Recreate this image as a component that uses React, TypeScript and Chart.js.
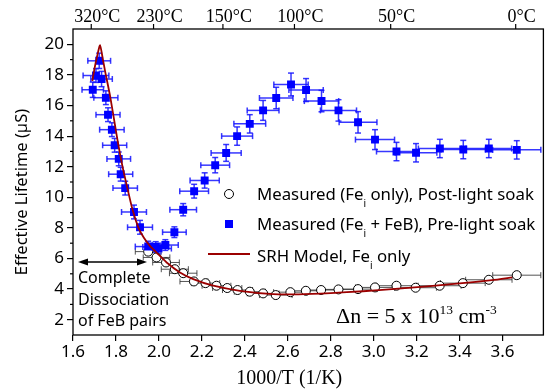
import React, { useEffect, useRef } from "react";
import { Chart, registerables } from "chart.js";

Chart.register(...registerables);

const SANS = "'Noto Sans', 'DejaVu Sans', sans-serif";
const SERIF = "'Liberation Serif', 'DejaVu Serif', serif";

// Measured (Fe_i + FeB), pre-light soak
const BLUE_X = [1.692, 1.707, 1.722, 1.733, 1.753, 1.763, 1.781, 1.794, 1.813, 1.822, 1.843, 1.884, 1.912,
  1.950, 1.985, 1.998, 2.030, 2.072,
  2.113, 2.164, 2.213, 2.262, 2.313, 2.364, 2.423,
  2.485, 2.546, 2.615, 2.685, 2.757, 2.836, 2.927, 3.006,
  3.106, 3.197, 3.308, 3.417, 3.536, 3.666];
const BLUE_Y = [17.03, 17.96, 18.92, 17.73, 16.51, 15.40, 14.42, 13.40, 12.51, 11.51, 10.60, 9.04, 8.04,
  6.78, 6.75, 6.65, 6.88, 7.72,
  9.19, 10.40, 11.10, 12.10, 12.90, 14.00, 14.80,
  15.68, 16.49, 17.37, 17.01, 16.29, 15.68, 14.90, 13.77,
  12.99, 12.91, 13.19, 13.12, 13.19, 13.10];
const BLUE_XERR = [0.05, 0.06, 0.053, 0.05, 0.056, 0.056, 0.057, 0.056, 0.055, 0.056, 0.057, 0.058, 0.058,
  0.06, 0.06, 0.06, 0.06, 0.055,
  0.062, 0.067, 0.068, 0.067, 0.07, 0.072, 0.074,
  0.074, 0.078, 0.08, 0.08, 0.08, 0.084, 0.088, 0.091,
  0.093, 0.097, 0.1, 0.103, 0.106, 0.112];
const BLUE_YERR = [0.5, 0.45, 0.5, 0.5, 0.45, 0.45, 0.45, 0.45, 0.45, 0.45, 0.45, 0.45, 0.45,
  0.35, 0.35, 0.35, 0.35, 0.35,
  0.4, 0.45, 0.5, 0.5, 0.55, 0.6, 0.6,
  0.65, 0.7, 0.75, 0.75, 0.7, 0.7, 0.7, 0.65,
  0.6, 0.6, 0.6, 0.6, 0.6, 0.6];

// Measured (Fe_i only), post-light soak
const CIRC_X = [1.950, 1.989, 2.033, 2.074, 2.113, 2.163, 2.217, 2.268, 2.318, 2.366, 2.423, 2.485, 2.544,
  2.612, 2.684, 2.755, 2.836, 2.927, 3.006, 3.106, 3.195, 3.307, 3.415, 3.536, 3.666];
const CIRC_Y = [6.45, 6.07, 5.74, 5.30, 5.04, 4.50, 4.39, 4.22, 4.07, 3.94, 3.83, 3.72, 3.61,
  3.80, 3.89, 3.94, 3.98, 4.00, 4.11, 4.22, 4.09, 4.22, 4.39, 4.61, 4.91];
const CIRC_XERR = [0.06, 0.062, 0.062, 0.063, 0.064, 0.065, 0.066, 0.067, 0.068, 0.07, 0.072, 0.074, 0.076,
  0.078, 0.08, 0.082, 0.085, 0.088, 0.091, 0.094, 0.097, 0.1, 0.104, 0.108, 0.112];

// SRH model, Fe_i only
const MODEL_X = [1.690, 1.700, 1.712, 1.726, 1.738, 1.750, 1.773, 1.804, 1.827, 1.851, 1.877, 1.905, 1.930,
  1.958, 1.989, 2.036, 2.098, 2.160, 2.253, 2.377, 2.532, 2.650, 2.800, 2.950, 3.100, 3.250, 3.400, 3.550, 3.645];
const MODEL_Y = [17.6, 18.4, 19.2, 19.95, 19.1, 18.2, 16.6, 14.0, 12.25, 10.73, 9.2, 8.0, 7.35,
  6.82, 6.39, 5.74, 5.09, 4.65, 4.22, 3.89, 3.67, 3.66, 3.74, 3.86, 4.02, 4.18, 4.38, 4.58, 4.76];

const X_TICKS = [1.6, 1.8, 2.0, 2.2, 2.4, 2.6, 2.8, 3.0, 3.2, 3.4, 3.6];
const Y_TICKS = [2, 4, 6, 8, 10, 12, 14, 16, 18, 20];
const Y_MINOR = [3, 5, 7, 9, 11, 13, 15, 17, 19];
const TOP_TICKS = [1.685, 1.975, 2.298, 2.631, 3.079, 3.661];
const TOP_LABELS = ["320°C", "230°C", "150°C", "100°C", "50°C", "0°C"];

const LEGEND_ROWS: [string, string][][] = [
  [["Measured (Fe", ""], ["i", "sub"], [" only), Post-light soak", ""]],
  [["Measured (Fe", ""], ["i", "sub"], [" + FeB), Pre-light soak", ""]],
  [["SRH Model, Fe", ""], ["i", "sub"], [" only", ""]],
];
const NOTE_LINES = ["Complete", "Dissociation", "of FeB pairs"];
const DN_PARTS: [string, string][] = [["Δn = 5 x 10", ""], ["13", "sup"], [" cm", ""], ["-3", "sup"]];

function drawRich(ctx: CanvasRenderingContext2D, parts: [string, string][], x: number, y: number,
  family: string, size: number, subSize: number, subDy: number, supDy: number) {
  let cx = x;
  for (const [t, kind] of parts) {
    if (kind === "sub") {
      ctx.font = `${subSize}px ${family}`;
      ctx.fillText(t, cx, y + subDy);
    } else if (kind === "sup") {
      ctx.font = `${subSize}px ${family}`;
      ctx.fillText(t, cx, y - supDy);
    } else {
      ctx.font = `${size}px ${family}`;
      ctx.fillText(t, cx, y);
    }
    cx += ctx.measureText(t).width;
  }
}

const errorBars = {
  id: "errorBars",
  beforeDatasetsDraw(chart: any) {
    const { ctx, scales } = chart;
    const x = scales.x, y = scales.y;
    ctx.save();
    const seg = (x1: number, y1: number, x2: number, y2: number) => {
      ctx.beginPath(); ctx.moveTo(x1, y1); ctx.lineTo(x2, y2); ctx.stroke();
    };
    ctx.strokeStyle = "rgba(40,40,40,0.8)";
    ctx.lineWidth = 1;
    CIRC_X.forEach((v, i) => {
      const py = y.getPixelForValue(CIRC_Y[i]);
      const l = x.getPixelForValue(v - CIRC_XERR[i]);
      const r = x.getPixelForValue(v + CIRC_XERR[i]);
      seg(l, py, r, py);
      seg(l, py - 3, l, py + 3);
      seg(r, py - 3, r, py + 3);
    });
    ctx.strokeStyle = "rgba(20,20,255,0.85)";
    ctx.lineWidth = 1.5;
    BLUE_X.forEach((v, i) => {
      const px = x.getPixelForValue(v);
      const py = y.getPixelForValue(BLUE_Y[i]);
      const l = x.getPixelForValue(v - BLUE_XERR[i]);
      const r = x.getPixelForValue(v + BLUE_XERR[i]);
      const t = y.getPixelForValue(BLUE_Y[i] + BLUE_YERR[i]);
      const b = y.getPixelForValue(BLUE_Y[i] - BLUE_YERR[i]);
      seg(l, py, r, py);
      seg(l, py - 3, l, py + 3);
      seg(r, py - 3, r, py + 3);
      seg(px, t, px, b);
      seg(px - 3, t, px + 3, t);
      seg(px - 3, b, px + 3, b);
    });
    ctx.restore();
  },
};

const overlay = {
  id: "overlay",
  afterDraw(chart: any) {
    const { ctx, chartArea, scales } = chart;
    const { left, right, top, bottom } = chartArea;
    const x = scales.x, y = scales.y;
    ctx.save();
    ctx.strokeStyle = "#000";
    ctx.fillStyle = "#000";
    ctx.lineWidth = 1.3;
    ctx.strokeRect(left, top, right - left, bottom - top);

    ctx.lineWidth = 1.2;
    Y_MINOR.forEach((v) => {
      const py = y.getPixelForValue(v);
      ctx.beginPath(); ctx.moveTo(left - 3, py); ctx.lineTo(left, py); ctx.stroke();
    });

    ctx.font = `18px ${SERIF}`;
    ctx.textAlign = "center";
    ctx.textBaseline = "alphabetic";
    TOP_TICKS.forEach((v, i) => {
      const px = x.getPixelForValue(v);
      ctx.beginPath(); ctx.moveTo(px, top); ctx.lineTo(px, top - 5); ctx.stroke();
      ctx.fillText(TOP_LABELS[i], px + 6, top - 7);
    });

    ctx.font = `20px ${SERIF}`;
    ctx.fillText("1000/T (1/K)", (left + right) / 2 - 19, 384);
    ctx.save();
    ctx.translate(22, (top + bottom) / 2 + 10);
    ctx.rotate(-Math.PI / 2);
    ctx.font = `16.5px ${SANS}`;
    ctx.textBaseline = "middle";
    ctx.fillText("Effective Lifetime (µS)", 0, 0);
    ctx.restore();

    ctx.textAlign = "left";
    ctx.textBaseline = "alphabetic";
    const lx = left + 156;
    const tx = left + 184;
    const rows = [top + 171, top + 201, top + 233];
    ctx.beginPath(); ctx.arc(lx, rows[0] - 6, 4.5, 0, Math.PI * 2);
    ctx.fillStyle = "#fff"; ctx.fill(); ctx.lineWidth = 1; ctx.strokeStyle = "#000"; ctx.stroke();
    ctx.fillStyle = "#0000ff";
    ctx.fillRect(lx - 4, rows[1] - 10, 8, 8);
    ctx.strokeStyle = "#9b0000"; ctx.lineWidth = 1.8;
    ctx.beginPath(); ctx.moveTo(lx - 21, rows[2] - 8); ctx.lineTo(lx + 21, rows[2] - 8); ctx.stroke();
    ctx.fillStyle = "#000";
    LEGEND_ROWS.forEach((parts, i) => drawRich(ctx, parts, tx, rows[i], SANS, 16.8, 10, 7, 0));

    ctx.font = `16px ${SANS}`;
    NOTE_LINES.forEach((t, i) => ctx.fillText(t, left + 5, 283 + i * 21.5));
    const ay = 262;
    const ax1 = left + 5, ax2 = left + 74;
    ctx.strokeStyle = "#000"; ctx.lineWidth = 1.5;
    ctx.beginPath(); ctx.moveTo(ax1 + 4, ay); ctx.lineTo(ax2 - 4, ay); ctx.stroke();
    ctx.beginPath(); ctx.moveTo(ax1, ay); ctx.lineTo(ax1 + 10, ay - 3.5); ctx.lineTo(ax1 + 10, ay + 3.5); ctx.closePath(); ctx.fill();
    ctx.beginPath(); ctx.moveTo(ax2, ay); ctx.lineTo(ax2 - 10, ay - 3.5); ctx.lineTo(ax2 - 10, ay + 3.5); ctx.closePath(); ctx.fill();

    drawRich(ctx, DN_PARTS, left + 263, 323, SERIF, 22, 13.5, 0, 9);
    ctx.restore();
  },
};

export default function App() {
  const ref = useRef<HTMLCanvasElement>(null);
  useEffect(() => {
    const canvas = ref.current!;
    const chart = new Chart(canvas, {
      type: "scatter",
      data: {
        datasets: [
          {
            label: "SRH Model, Fe_i only",
            data: MODEL_X.map((v, i) => ({ x: v, y: MODEL_Y[i] })),
            showLine: true,
            pointRadius: 0,
            borderColor: "#9b0000",
            borderWidth: 1.8,
            tension: 0.2,
          },
          {
            label: "Measured (Fe_i + FeB), Pre-light soak",
            data: BLUE_X.map((v, i) => ({ x: v, y: BLUE_Y[i] })),
            pointStyle: "rect",
            pointRadius: 5.6,
            backgroundColor: "#0000ff",
            borderColor: "#0000ff",
            borderWidth: 0,
          },
          {
            label: "Measured (Fe_i only), Post-light soak",
            data: CIRC_X.map((v, i) => ({ x: v, y: CIRC_Y[i] })),
            pointStyle: "circle",
            pointRadius: 4.5,
            backgroundColor: "#ffffff",
            borderColor: "#000000",
            borderWidth: 1,
          },
        ],
      },
      options: {
        responsive: false,
        animation: false,
        devicePixelRatio: 1,
        layout: { padding: { top: 29, right: 4, left: 0, bottom: 0 } },
        plugins: { legend: { display: false }, tooltip: { enabled: false } },
        scales: {
          x: {
            type: "linear",
            position: "bottom",
            min: 1.6,
            max: 3.79,
            afterBuildTicks: (s: any) => { s.ticks = X_TICKS.map((v) => ({ value: v })); },
            afterFit: (s: any) => { s.height = 54; },
            ticks: {
              callback: (v: any) => Number(v).toFixed(1),
              font: { family: SANS, size: 17 },
              color: "#000",
              padding: 1,
              maxRotation: 0,
              autoSkip: false,
            },
            grid: { drawOnChartArea: false, tickLength: 6, color: "#000", lineWidth: 1.2 },
            border: { display: false },
          },
          y: {
            type: "linear",
            min: 1,
            max: 21,
            afterBuildTicks: (s: any) => { s.ticks = Y_TICKS.map((v) => ({ value: v })); },
            afterFit: (s: any) => { s.width = 73; },
            ticks: {
              font: { family: SANS, size: 17 },
              color: "#000",
              padding: 3,
              autoSkip: false,
            },
            grid: { drawOnChartArea: false, tickLength: 6, color: "#000", lineWidth: 1.2 },
            border: { display: false },
          },
        },
      },
      plugins: [errorBars, overlay],
    });
    return () => chart.destroy();
  }, []);
  return (
    <div style={{ position: "fixed", left: 0, top: 0, width: 549, height: 389, background: "#fff" }}>
      <canvas ref={ref} width={549} height={389} style={{ display: "block" }} />
    </div>
  );
}
